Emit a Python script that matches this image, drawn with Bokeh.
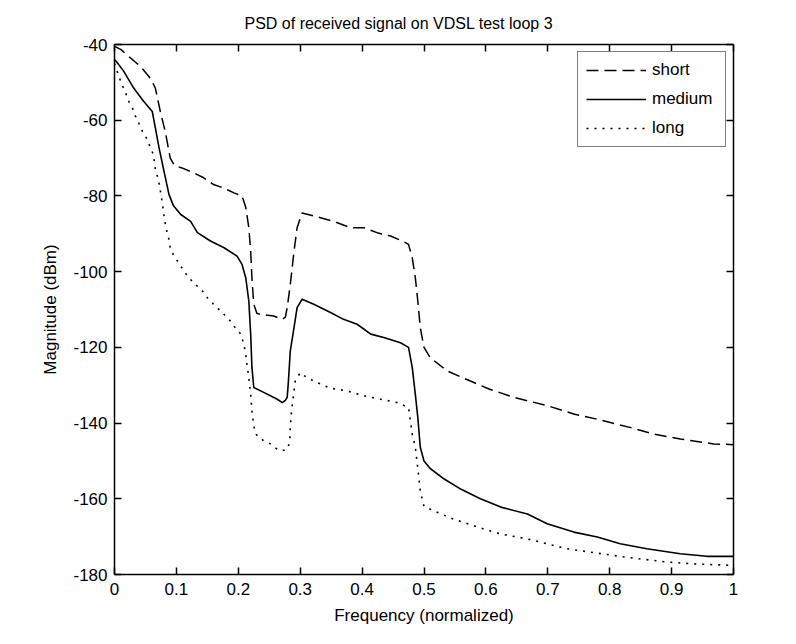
from bokeh.plotting import figure
from bokeh.models import Range1d, LinearAxis, FixedTicker, Legend, LegendItem
from bokeh.embed import file_html
from bokeh.resources import INLINE

# ---------------- data ----------------
short_x = [0.0, 0.01, 0.029, 0.042, 0.058, 0.066, 0.074, 0.082, 0.09, 0.097, 0.109, 0.128,
           0.144, 0.16, 0.176, 0.193, 0.206, 0.212, 0.217, 0.22, 0.222, 0.225, 0.23, 0.236,
           0.257, 0.271, 0.276, 0.279, 0.284, 0.29, 0.295, 0.303, 0.322, 0.354, 0.381, 0.403,
           0.424, 0.446, 0.465, 0.475, 0.481, 0.486, 0.49, 0.494, 0.5, 0.51, 0.537, 0.575,
           0.605, 0.645, 0.699, 0.742, 0.78, 0.834, 0.871, 0.914, 0.968, 1.0]
short_y = [-40.5, -41.3, -44.0, -45.8, -48.9, -51.5, -57.7, -63.0, -70.0, -72.0, -72.6, -73.9,
           -75.2, -77.0, -77.9, -79.2, -80.0, -83.0, -88.4, -94.6, -101.6, -108.6, -111.0, -111.3,
           -111.7, -112.6, -112.0, -109.5, -103.4, -94.6, -88.4, -84.5, -85.3, -86.7, -88.4, -88.4,
           -89.7, -90.6, -91.9, -92.8, -96.3, -101.6, -107.8, -114.8, -120.0, -122.7, -126.2, -128.9,
           -131.0, -133.2, -135.4, -137.6, -139.0, -141.2, -142.9, -144.2, -145.5, -145.7]

medium_x = [0.0, 0.003, 0.015, 0.031, 0.047, 0.061, 0.066, 0.072, 0.08, 0.088, 0.095, 0.107,
            0.123, 0.134, 0.155, 0.177, 0.198, 0.206, 0.212, 0.217, 0.22, 0.222, 0.225, 0.241,
            0.263, 0.271, 0.276, 0.279, 0.281, 0.284, 0.29, 0.295, 0.303, 0.322, 0.349, 0.37,
            0.392, 0.414, 0.435, 0.462, 0.475, 0.481, 0.486, 0.49, 0.494, 0.5, 0.51, 0.53,
            0.56, 0.591, 0.624, 0.667, 0.699, 0.742, 0.78, 0.817, 0.86, 0.914, 0.957, 1.0]
medium_y = [-44.0, -44.5, -47.1, -51.5, -55.0, -57.7, -62.0, -67.3, -73.5, -79.6, -82.5, -84.9,
            -86.7, -89.7, -91.9, -93.7, -95.9, -98.1, -101.6, -107.8, -116.5, -125.3, -130.6, -131.9,
            -133.7, -134.6, -134.0, -133.2, -128.9, -120.9, -114.8, -109.5, -107.3, -108.6, -110.8, -112.6,
            -113.9, -116.5, -117.4, -118.8, -120.0, -125.3, -132.4, -138.5, -146.4, -150.0, -152.0, -154.5,
            -157.5, -160.0, -162.2, -164.0, -166.6, -168.8, -170.1, -171.9, -173.2, -174.5, -175.2, -175.2]

long_x = [0.0, 0.007, 0.012, 0.018, 0.023, 0.029, 0.034, 0.039, 0.045, 0.053, 0.058, 0.063,
          0.066, 0.07, 0.073, 0.075, 0.078, 0.081, 0.085, 0.088, 0.09, 0.096, 0.104, 0.112,
          0.12, 0.131, 0.142, 0.15, 0.16, 0.174, 0.185, 0.195, 0.204, 0.209, 0.212, 0.214,
          0.217, 0.22, 0.222, 0.225, 0.228, 0.241, 0.252, 0.263, 0.271, 0.279, 0.283, 0.284,
          0.286, 0.289, 0.292, 0.3, 0.311, 0.327, 0.349, 0.376, 0.403, 0.43, 0.457, 0.475,
          0.478, 0.481, 0.486, 0.49, 0.494, 0.5, 0.52, 0.55, 0.597, 0.624, 0.667, 0.699,
          0.731, 0.769, 0.807, 0.85, 0.893, 0.936, 1.0]
long_y = [-45.0, -48.4, -50.6, -52.8, -55.0, -56.8, -59.0, -60.7, -62.9, -65.1, -67.3, -69.1,
          -73.0, -75.2, -77.4, -79.6, -82.7, -86.5, -89.7, -91.5, -93.7, -95.9, -97.7, -99.8,
          -101.6, -103.4, -105.1, -106.9, -108.6, -110.8, -112.6, -114.8, -116.5, -119.2, -121.8, -124.5,
          -128.0, -132.4, -136.8, -140.7, -142.9, -144.7, -145.5, -146.9, -147.3, -146.9, -145.1, -141.2,
          -136.8, -132.8, -128.9, -126.7, -128.0, -129.3, -130.8, -131.5, -132.8, -133.7, -134.6, -135.9,
          -139.4, -142.9, -146.4, -152.0, -158.0, -162.0, -163.5, -165.5, -168.0, -169.3, -170.6, -171.9,
          -173.2, -174.1, -175.0, -175.9, -176.7, -177.2, -177.6]

series_names = ["short", "medium", "long"]
x_ticks = [0, 0.1, 0.2, 0.3, 0.4, 0.5, 0.6, 0.7, 0.8, 0.9, 1]
x_tick_labels = ["0", "0.1", "0.2", "0.3", "0.4", "0.5", "0.6", "0.7", "0.8", "0.9", "1"]
y_ticks = [-180, -160, -140, -120, -100, -80, -60, -40]
y_tick_labels = ["-180", "-160", "-140", "-120", "-100", "-80", "-60", "-40"]

title_text = "PSD of received signal on VDSL test loop 3"
x_label = "Frequency (normalized)"
y_label = "Magnitude (dBm)"

# ---------------- figure ----------------
FONT = "Liberation Sans"

p = figure(width=796, height=644, x_range=Range1d(0, 1), y_range=Range1d(-180, -40),
           output_backend="svg", toolbar_location=None,
           min_border_left=114, min_border_right=63, min_border_top=43, min_border_bottom=70,
           title=title_text)
p.background_fill_color = "white"
p.border_fill_color = "white"
p.outline_line_color = None
p.xgrid.visible = False
p.ygrid.visible = False

p.title.text_font = FONT
p.title.text_font_size = "16px"
p.title.text_font_style = "normal"
p.title.text_color = "black"
p.title.align = "left"
p.title.offset = 130
p.title.standoff = 25

def style_axis(ax, show_labels):
    ax.axis_line_color = "black"
    ax.axis_line_width = 1.5
    ax.major_tick_line_color = "black"
    ax.major_tick_line_width = 1.5
    ax.major_tick_in = 7
    ax.major_tick_out = 0
    ax.minor_tick_line_color = None
    ax.major_label_text_font = FONT
    ax.major_label_text_font_size = "17px" if show_labels else "1px"
    ax.major_label_text_color = "black" if show_labels else None
    ax.axis_label_text_font = FONT
    ax.axis_label_text_font_size = "17px"
    ax.axis_label_text_font_style = "normal"
    ax.axis_label_text_color = "black"

xax = p.xaxis[0]
xax.ticker = FixedTicker(ticks=x_ticks)
xax.major_label_overrides = {t: s for t, s in zip(x_ticks, x_tick_labels)}
xax.axis_label = x_label
style_axis(xax, True)
xax.major_label_standoff = 8
xax.axis_label_standoff = 8

yax = p.yaxis[0]
yax.ticker = FixedTicker(ticks=y_ticks)
yax.major_label_overrides = {t: s for t, s in zip(y_ticks, y_tick_labels)}
yax.axis_label = y_label
style_axis(yax, True)
yax.major_label_standoff = 7
yax.axis_label_standoff = 10

top = LinearAxis(ticker=FixedTicker(ticks=x_ticks))
style_axis(top, False)
top.major_label_standoff = 0
p.add_layout(top, "above")
right = LinearAxis(ticker=FixedTicker(ticks=y_ticks))
style_axis(right, False)
right.major_label_standoff = 0
p.add_layout(right, "right")

r_short = p.line(short_x, short_y, line_color="black", line_width=1.5, line_dash="12 6")
r_medium = p.line(medium_x, medium_y, line_color="black", line_width=1.6)
r_long = p.line(long_x, long_y, line_color="black", line_width=1.6, line_dash="2 6")

legend = Legend(items=[LegendItem(label=series_names[0], renderers=[r_short]),
                       LegendItem(label=series_names[1], renderers=[r_medium]),
                       LegendItem(label=series_names[2], renderers=[r_long])],
                location=(463, 427), margin=0, padding=8, spacing=9,
                glyph_width=60, glyph_height=20, label_height=20, label_standoff=6,
                label_width=65,
                label_text_font=FONT, label_text_font_size="17px", label_text_color="black",
                border_line_color="black", border_line_width=1.2,
                background_fill_color="white", background_fill_alpha=1.0)
p.add_layout(legend, "center")

open("out.html", "w").write(file_html(p, INLINE))
